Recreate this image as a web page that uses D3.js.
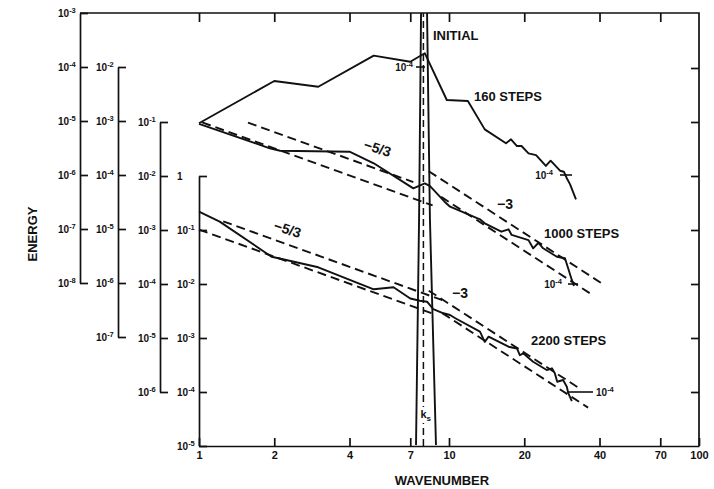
<!DOCTYPE html>
<html>
<head>
<meta charset="utf-8">
<script src="https://cdn.jsdelivr.net/npm/d3@7"></script>
<style>
  body { margin: 0; background: #fff; }
  svg { display: block; }
  text { font-family: "Liberation Sans", Arial, sans-serif; fill: #111; }
</style>
</head>
<body>
<svg id="chart" width="714" height="489"></svg>
<script>
// Wavenumber ticks on the bottom / top axes
const kTicks = [1, 2, 4, 7, 10, 20, 40, 70, 100];

// Initial spectrum: narrow peak around the forcing wavenumber k_s
const initialK = [7.38, 7.59, 7.73, 7.95, 8.17, 8.39, 8.87];
const initialE = [1e-11, 1.5e-7, 1e-3, 1e-1, 1e-3, 1.5e-7, 1e-11];
const forcingK = 7.9;

// Spectrum after 160 steps
const k160 = [1, 2, 3, 5, 7, 8, 9.8, 11.9, 13.9, 16.9, 17.7, 18.7, 19.5, 20.8, 22.3, 24.4, 25.5, 27.8, 28.8, 29.6, 30.5, 32.2];
const e160 = [9.1e-4, 5.5e-3, 4.3e-3, 1.62e-2, 1.25e-2, 1.8e-2, 2.45e-3, 2.35e-3, 7.0e-4, 3.86e-4, 4.58e-4, 3.44e-4, 3.44e-4, 2.52e-4, 2.34e-4, 1.47e-4, 1.84e-4, 1.2e-4, 1.15e-4, 8.7e-5, 6.7e-5, 3.55e-5];

// Spectrum after 1000 steps
const k1000 = [1, 1.92, 2.11, 4.0, 5.0, 7.2, 8.0, 8.4, 9.6, 10.1, 13.3, 13.9, 16.2, 17.3, 17.8, 20.8, 21.7, 22.8, 23.8, 27, 29.1, 31, 31.6];
const e1000 = [0.092, 0.0326, 0.0294, 0.0282, 0.0172, 5.9e-3, 7.3e-3, 6.5e-3, 3.34e-3, 2.7e-3, 1.58e-3, 1.33e-3, 9.3e-4, 1.03e-3, 8.1e-4, 6.5e-4, 4.58e-4, 5.8e-4, 4.58e-4, 3.2e-4, 3.0e-4, 1.19e-4, 9.2e-5];

// Spectrum after 2200 steps
const k2200 = [1, 1.21, 1.95, 2.08, 3.0, 5.0, 6.0, 7.0, 7.65, 8.17, 8.65, 9.5, 10.1, 10.6, 13.3, 13.9, 14.4, 17.3, 18.7, 19.2, 19.8, 21.7, 24.6, 25.8, 26.5, 27.1, 28.6, 29.6, 30.0, 31.0];
const e2200 = [0.218, 0.143, 0.032, 0.030, 0.0204, 7.98e-3, 8.7e-3, 5.4e-3, 4.9e-3, 4.7e-3, 3.44e-3, 2.87e-3, 2.67e-3, 2.32e-3, 1.31e-3, 8.5e-4, 1.06e-3, 6.9e-4, 6.4e-4, 4.8e-4, 5.2e-4, 3.64e-4, 2.55e-4, 2.75e-4, 2.22e-4, 1.55e-4, 1.67e-4, 1.25e-4, 9.5e-5, 6.8e-5];

// Power-law guide lines E = A k^slope, as [slope, A, kFrom, kTo]
const guides1000 = [[-5/3, 0.207, 1.57, 7.2], [-5/3, 0.103, 1.03, 8.6], [-3, 7.0, 8.3, 41], [-3, 3.3, 9.3, 36.6]];
const guides2200 = [[-5/3, 0.21, 1.25, 9.4], [-5/3, 0.102, 1.0, 8.5], [-3, 4.3, 8.3, 33], [-3, 2.4, 9.4, 36]];

const svg = d3.select("#chart");

// Shared wavenumber scale and one energy scale per staggered axis
const x = d3.scaleLog().domain([1, 100]).range([199, 699]);
const yInit = d3.scaleLog().domain([1e-8, 1e-3]).range([283, 13]);
const y160  = d3.scaleLog().domain([1e-7, 1e-2]).range([337, 67]);
const y1000 = d3.scaleLog().domain([1e-6, 1e-1]).range([392, 122]);
const y2200 = d3.scaleLog().domain([1e-5, 1]).range([446, 176]);

const ink = "#111";

function powLabel(sel, v) {
  const e = Math.round(Math.log10(v));
  if (e === 0) { sel.text("1"); return; }
  sel.text("10");
  sel.append("tspan").attr("dy", -4).attr("font-size", 7.5).text("-" + (-e));
}

function decades(scale) {
  const [lo, hi] = scale.domain().map(Math.log10);
  return d3.range(Math.round(hi), Math.round(lo) - 1, -1).map(e => Math.pow(10, e));
}

// Staggered energy axes, ticks pointing right, labels on the left
const energyAxes = [
  { scale: yInit, at: 80 },
  { scale: y160, at: 118 },
  { scale: y1000, at: 160 },
  { scale: y2200, at: 199 }
];
energyAxes.forEach(a => {
  const vals = decades(a.scale);
  const g = svg.append("g").attr("transform", `translate(${a.at},0)`)
    .call(d3.axisRight(a.scale).tickValues(vals).tickSizeInner(8).tickSizeOuter(0).tickFormat(""));
  g.select(".domain").attr("stroke", ink).attr("stroke-width", 1.7);
  g.selectAll(".tick line").attr("stroke", ink).attr("stroke-width", 1.7);
  vals.forEach(v => {
    svg.append("text").attr("x", a.at - 22).attr("y", a.scale(v) + 3.5)
      .attr("font-size", 10).attr("font-weight", "bold").call(powLabel, v);
  });
});

// Frame: top edge from the outer axis, right edge
svg.append("path").attr("d", `M80,13H699V446`).attr("fill", "none")
  .attr("stroke", ink).attr("stroke-width", 1.7);

// Right-edge decade ticks
const gr = svg.append("g").attr("transform", "translate(699,0)")
  .call(d3.axisLeft(y2200).tickValues([1e2, 1e1, 1, 1e-1, 1e-2, 1e-3, 1e-4]).tickSizeInner(8).tickSizeOuter(0).tickFormat(""));
gr.select(".domain").remove();
gr.selectAll(".tick line").attr("stroke", ink).attr("stroke-width", 1.7);

// Bottom wavenumber axis
const gb = svg.append("g").attr("transform", "translate(0,446)")
  .call(d3.axisBottom(x).tickValues(kTicks).tickSizeInner(-8).tickSizeOuter(0).tickPadding(5).tickFormat(d3.format("d")));
gb.select(".domain").attr("stroke", ink).attr("stroke-width", 1.7);
gb.selectAll(".tick line").attr("stroke", ink).attr("stroke-width", 1.7);
gb.selectAll(".tick text").attr("font-size", 11).attr("font-weight", "bold")
  .attr("font-family", "Liberation Sans, Arial, sans-serif").attr("fill", ink);

// Top ticks
const gt = svg.append("g").attr("transform", "translate(0,13)")
  .call(d3.axisTop(x).tickValues(kTicks.slice(0, -1)).tickSizeInner(-9).tickSizeOuter(0).tickFormat(""));
gt.select(".domain").remove();
gt.selectAll(".tick line").attr("stroke", ink).attr("stroke-width", 1.7);

// Plot clip
svg.append("clipPath").attr("id", "plotClip").append("rect")
  .attr("x", 199).attr("y", 13).attr("width", 500).attr("height", 433);

// Forcing wavenumber marker
svg.append("line").attr("x1", x(forcingK)).attr("x2", x(forcingK)).attr("y1", 446).attr("y2", 13)
  .attr("stroke", ink).attr("stroke-width", 1.5).attr("stroke-dasharray", "7,4");

const mkLine = ys => d3.line().x(d => x(d[0])).y(d => ys(d[1]));

// Power-law guides
function drawGuides(list, ys) {
  list.forEach(([p, A, k0, k1]) => {
    const pts = [[k0, A * Math.pow(k0, p)], [k1, A * Math.pow(k1, p)]];
    svg.append("path").attr("d", mkLine(ys)(pts)).attr("fill", "none")
      .attr("stroke", ink).attr("stroke-width", 1.9).attr("stroke-dasharray", "9,5");
  });
}
drawGuides(guides1000, y1000);
drawGuides(guides2200, y2200);

// Spectra
const curve = (ks, es, ys, clip) => {
  const p = svg.append("path").attr("d", mkLine(ys)(d3.zip(ks, es))).attr("fill", "none")
    .attr("stroke", ink).attr("stroke-width", 1.9).attr("stroke-linejoin", "round");
  if (clip) p.attr("clip-path", "url(#plotClip)");
};
curve(initialK, initialE, yInit, true);
curve(k160, e160, y160);
curve(k1000, e1000, y1000);
curve(k2200, e2200, y2200);

// Per-curve 10^-4 reference marks
const refMarks = [
  { ys: yInit, x0: 416, x1: 425, lx: 413, anchor: "end" },
  { ys: y160, x0: 560, x1: 572, lx: 553, anchor: "end" },
  { ys: y1000, x0: 568, x1: 578, lx: 562, anchor: "end" },
  { ys: y2200, x0: 567, x1: 593, lx: 596, anchor: "start" }
];
refMarks.forEach(m => {
  const yy = m.ys(1e-4);
  svg.append("line").attr("x1", m.x0).attr("x2", m.x1).attr("y1", yy).attr("y2", yy)
    .attr("stroke", ink).attr("stroke-width", 1.6);
  svg.append("text").attr("x", m.lx).attr("y", yy + 4).attr("text-anchor", m.anchor)
    .attr("font-size", 10).attr("font-weight", "bold").call(powLabel, 1e-4);
});

// Curve labels
const labels = [
  ["INITIAL", 433, 40], ["160 STEPS", 474, 101], ["1000 STEPS", 544, 238], ["2200 STEPS", 531, 345]
];
labels.forEach(([t, lx, ly]) => {
  svg.append("text").attr("x", lx).attr("y", ly).attr("font-size", 13).attr("font-weight", "bold").text(t);
});

// Slope labels
[["\u22125/3", 376, 148, 18], ["\u22125/3", 286, 229, 18], ["\u22123", 505, 204, 0], ["\u22123", 460, 293, 0]]
  .forEach(([t, cx, cy, r]) => {
    svg.append("text").attr("transform", `translate(${cx},${cy + 5}) rotate(${r})`)
      .attr("text-anchor", "middle").attr("font-size", 14).attr("font-weight", "bold").text(t);
  });

// k_s label over the dashed marker
svg.append("rect").attr("x", x(forcingK) - 4).attr("y", 407).attr("width", 11).attr("height", 16).attr("fill", "#fff");
const ks = svg.append("text").attr("x", x(forcingK) - 3).attr("y", 418)
  .attr("font-size", 11).attr("font-weight", "bold").text("k");
ks.append("tspan").attr("dy", 3).attr("font-size", 8).text("s");

// Axis titles
svg.append("text").attr("x", 442).attr("y", 485).attr("text-anchor", "middle")
  .attr("font-size", 13).attr("font-weight", "bold").text("WAVENUMBER");
svg.append("text").attr("transform", "translate(37,234) rotate(-90)").attr("text-anchor", "middle")
  .attr("font-size", 13).attr("font-weight", "bold").text("ENERGY");
</script>
</body>
</html>
